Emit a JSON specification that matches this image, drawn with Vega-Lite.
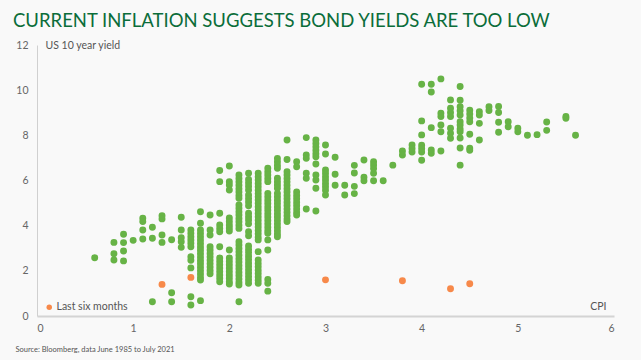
{
  "$schema": "https://vega.github.io/schema/vega-lite/v6.json",
  "autosize": "none",
  "width": 577,
  "height": 271,
  "padding": {"left": 37, "top": 45, "right": 27, "bottom": 44},
  "background": "#f9f9f9",
  "config": {"view": {"stroke": null}, "font": "Lato"},
  "title": {"text": "CURRENT INFLATION SUGGESTS BOND YIELDS ARE TOO LOW", "anchor": "start", "frame": "group", "dx": -24, "dy": 18, "offset": 13, "baseline": "alphabetic", "fontSize": 18.5, "font": "Lato", "fontWeight": "normal", "color": "#0b6d3a"},
  "datasets": {
    "history": [
      {"cpi":0.6,"yield":2.58},
      {"cpi":0.8,"yield":3.26},{"cpi":0.8,"yield":2.76},{"cpi":0.8,"yield":2.48},
      {"cpi":0.9,"yield":3.62},{"cpi":0.9,"yield":3.25},{"cpi":0.9,"yield":2.88},{"cpi":0.9,"yield":2.44},
      {"cpi":1.0,"yield":3.35},
      {"cpi":1.1,"yield":4.33},{"cpi":1.1,"yield":4.18},{"cpi":1.1,"yield":3.81},{"cpi":1.1,"yield":3.41},
      {"cpi":1.2,"yield":3.93},{"cpi":1.2,"yield":3.44},{"cpi":1.2,"yield":0.63},
      {"cpi":1.3,"yield":4.44},{"cpi":1.3,"yield":4.30},{"cpi":1.3,"yield":3.59},{"cpi":1.3,"yield":3.26},
      {"cpi":1.4,"yield":3.38},{"cpi":1.4,"yield":1.03},{"cpi":1.4,"yield":0.63},
      {"cpi":1.5,"yield":4.37},{"cpi":1.5,"yield":3.81},{"cpi":1.5,"yield":3.47},{"cpi":1.5,"yield":3.29},{"cpi":1.5,"yield":3.04},
      {"cpi":1.6,"yield":3.81},{"cpi":1.6,"yield":3.66},{"cpi":1.6,"yield":3.51},{"cpi":1.6,"yield":3.37},{"cpi":1.6,"yield":3.22},{"cpi":1.6,"yield":3.07},{"cpi":1.6,"yield":2.62},{"cpi":1.6,"yield":2.47},{"cpi":1.6,"yield":2.13},{"cpi":1.6,"yield":0.85},{"cpi":1.6,"yield":0.49},
      {"cpi":1.7,"yield":4.62},{"cpi":1.7,"yield":4.11},{"cpi":1.7,"yield":3.81},{"cpi":1.7,"yield":3.66},{"cpi":1.7,"yield":3.51},{"cpi":1.7,"yield":3.36},{"cpi":1.7,"yield":3.21},{"cpi":1.7,"yield":3.06},{"cpi":1.7,"yield":2.91},{"cpi":1.7,"yield":2.76},{"cpi":1.7,"yield":2.61},{"cpi":1.7,"yield":2.46},{"cpi":1.7,"yield":2.31},{"cpi":1.7,"yield":2.16},{"cpi":1.7,"yield":2.01},{"cpi":1.7,"yield":1.86},{"cpi":1.7,"yield":1.71},{"cpi":1.7,"yield":1.59},{"cpi":1.7,"yield":0.68},
      {"cpi":1.8,"yield":4.47},{"cpi":1.8,"yield":3.81},{"cpi":1.8,"yield":3.59},{"cpi":1.8,"yield":3.07},{"cpi":1.8,"yield":2.92},{"cpi":1.8,"yield":2.77},{"cpi":1.8,"yield":2.62},{"cpi":1.8,"yield":2.47},{"cpi":1.8,"yield":2.32},{"cpi":1.8,"yield":2.17},{"cpi":1.8,"yield":2.02},{"cpi":1.8,"yield":1.87},
      {"cpi":1.9,"yield":6.44},{"cpi":1.9,"yield":5.95},{"cpi":1.9,"yield":4.55},{"cpi":1.9,"yield":4.03},{"cpi":1.9,"yield":3.88},{"cpi":1.9,"yield":3.73},{"cpi":1.9,"yield":3.07},{"cpi":1.9,"yield":2.57},{"cpi":1.9,"yield":2.42},{"cpi":1.9,"yield":2.27},{"cpi":1.9,"yield":2.12},{"cpi":1.9,"yield":1.97},{"cpi":1.9,"yield":1.82},{"cpi":1.9,"yield":1.67},{"cpi":1.9,"yield":1.52},
      {"cpi":2.0,"yield":6.64},{"cpi":2.0,"yield":5.95},{"cpi":2.0,"yield":5.80},{"cpi":2.0,"yield":5.58},{"cpi":2.0,"yield":4.34},{"cpi":2.0,"yield":4.19},{"cpi":2.0,"yield":4.03},{"cpi":2.0,"yield":3.90},{"cpi":2.0,"yield":3.76},{"cpi":2.0,"yield":2.92},{"cpi":2.0,"yield":2.57},{"cpi":2.0,"yield":2.42},{"cpi":2.0,"yield":2.27},{"cpi":2.0,"yield":2.12},{"cpi":2.0,"yield":1.97},{"cpi":2.0,"yield":1.82},{"cpi":2.0,"yield":1.67},{"cpi":2.0,"yield":1.52},{"cpi":2.0,"yield":1.42},
      {"cpi":2.1,"yield":6.24},{"cpi":2.1,"yield":6.09},{"cpi":2.1,"yield":5.94},{"cpi":2.1,"yield":5.79},{"cpi":2.1,"yield":5.64},{"cpi":2.1,"yield":5.49},{"cpi":2.1,"yield":5.34},{"cpi":2.1,"yield":5.21},{"cpi":2.1,"yield":4.92},{"cpi":2.1,"yield":4.77},{"cpi":2.1,"yield":4.62},{"cpi":2.1,"yield":4.47},{"cpi":2.1,"yield":4.32},{"cpi":2.1,"yield":4.17},{"cpi":2.1,"yield":4.02},{"cpi":2.1,"yield":3.88},{"cpi":2.1,"yield":3.29},{"cpi":2.1,"yield":3.14},{"cpi":2.1,"yield":2.99},{"cpi":2.1,"yield":2.84},{"cpi":2.1,"yield":2.69},{"cpi":2.1,"yield":2.54},{"cpi":2.1,"yield":2.39},{"cpi":2.1,"yield":2.24},{"cpi":2.1,"yield":2.09},{"cpi":2.1,"yield":1.94},{"cpi":2.1,"yield":1.79},{"cpi":2.1,"yield":1.64},{"cpi":2.1,"yield":1.49},{"cpi":2.1,"yield":1.37},{"cpi":2.1,"yield":0.63},
      {"cpi":2.2,"yield":6.32},{"cpi":2.2,"yield":6.05},{"cpi":2.2,"yield":5.90},{"cpi":2.2,"yield":5.75},{"cpi":2.2,"yield":5.58},{"cpi":2.2,"yield":5.36},{"cpi":2.2,"yield":5.20},{"cpi":2.2,"yield":5.05},{"cpi":2.2,"yield":4.88},{"cpi":2.2,"yield":4.55},{"cpi":2.2,"yield":4.40},{"cpi":2.2,"yield":4.25},{"cpi":2.2,"yield":4.08},{"cpi":2.2,"yield":3.73},{"cpi":2.2,"yield":3.55},{"cpi":2.2,"yield":3.10},{"cpi":2.2,"yield":2.95},{"cpi":2.2,"yield":2.80},{"cpi":2.2,"yield":2.65},{"cpi":2.2,"yield":2.50},{"cpi":2.2,"yield":2.35},{"cpi":2.2,"yield":2.20},{"cpi":2.2,"yield":2.05},{"cpi":2.2,"yield":1.90},{"cpi":2.2,"yield":1.75},{"cpi":2.2,"yield":1.60},{"cpi":2.2,"yield":1.45},
      {"cpi":2.3,"yield":6.32},{"cpi":2.3,"yield":6.17},{"cpi":2.3,"yield":6.02},{"cpi":2.3,"yield":5.87},{"cpi":2.3,"yield":5.72},{"cpi":2.3,"yield":5.57},{"cpi":2.3,"yield":5.42},{"cpi":2.3,"yield":5.28},{"cpi":2.3,"yield":5.14},{"cpi":2.3,"yield":4.99},{"cpi":2.3,"yield":4.84},{"cpi":2.3,"yield":4.69},{"cpi":2.3,"yield":4.54},{"cpi":2.3,"yield":4.39},{"cpi":2.3,"yield":4.24},{"cpi":2.3,"yield":4.09},{"cpi":2.3,"yield":3.94},{"cpi":2.3,"yield":3.79},{"cpi":2.3,"yield":3.64},{"cpi":2.3,"yield":3.49},{"cpi":2.3,"yield":3.37},{"cpi":2.3,"yield":2.85},{"cpi":2.3,"yield":2.48},{"cpi":2.3,"yield":2.33},{"cpi":2.3,"yield":2.18},{"cpi":2.3,"yield":2.03},{"cpi":2.3,"yield":1.88},{"cpi":2.3,"yield":1.73},{"cpi":2.3,"yield":1.58},{"cpi":2.3,"yield":1.45},
      {"cpi":2.4,"yield":6.54},{"cpi":2.4,"yield":6.39},{"cpi":2.4,"yield":6.24},{"cpi":2.4,"yield":6.09},{"cpi":2.4,"yield":5.95},{"cpi":2.4,"yield":5.43},{"cpi":2.4,"yield":5.28},{"cpi":2.4,"yield":5.13},{"cpi":2.4,"yield":4.98},{"cpi":2.4,"yield":4.83},{"cpi":2.4,"yield":4.68},{"cpi":2.4,"yield":4.53},{"cpi":2.4,"yield":4.38},{"cpi":2.4,"yield":4.23},{"cpi":2.4,"yield":4.08},{"cpi":2.4,"yield":3.93},{"cpi":2.4,"yield":3.78},{"cpi":2.4,"yield":3.66},{"cpi":2.4,"yield":3.37},{"cpi":2.4,"yield":2.92},{"cpi":2.4,"yield":1.62},{"cpi":2.4,"yield":1.45},{"cpi":2.4,"yield":1.10},
      {"cpi":2.5,"yield":6.98},{"cpi":2.5,"yield":6.83},{"cpi":2.5,"yield":6.68},{"cpi":2.5,"yield":6.54},{"cpi":2.5,"yield":6.10},{"cpi":2.5,"yield":5.95},{"cpi":2.5,"yield":5.80},{"cpi":2.5,"yield":5.66},{"cpi":2.5,"yield":5.43},{"cpi":2.5,"yield":5.28},{"cpi":2.5,"yield":5.13},{"cpi":2.5,"yield":4.98},{"cpi":2.5,"yield":4.83},{"cpi":2.5,"yield":4.68},{"cpi":2.5,"yield":4.53},{"cpi":2.5,"yield":4.38},{"cpi":2.5,"yield":4.23},{"cpi":2.5,"yield":4.08},{"cpi":2.5,"yield":3.93},{"cpi":2.5,"yield":3.78},{"cpi":2.5,"yield":3.63},{"cpi":2.5,"yield":3.51},
      {"cpi":2.6,"yield":7.79},{"cpi":2.6,"yield":6.93},{"cpi":2.6,"yield":6.39},{"cpi":2.6,"yield":6.24},{"cpi":2.6,"yield":6.09},{"cpi":2.6,"yield":5.94},{"cpi":2.6,"yield":5.79},{"cpi":2.6,"yield":5.64},{"cpi":2.6,"yield":5.49},{"cpi":2.6,"yield":5.34},{"cpi":2.6,"yield":5.19},{"cpi":2.6,"yield":5.04},{"cpi":2.6,"yield":4.89},{"cpi":2.6,"yield":4.74},{"cpi":2.6,"yield":4.59},{"cpi":2.6,"yield":4.44},{"cpi":2.6,"yield":4.29},{"cpi":2.6,"yield":4.18},
      {"cpi":2.7,"yield":6.83},{"cpi":2.7,"yield":6.61},{"cpi":2.7,"yield":5.49},{"cpi":2.7,"yield":5.34},{"cpi":2.7,"yield":5.19},{"cpi":2.7,"yield":5.04},{"cpi":2.7,"yield":4.89},{"cpi":2.7,"yield":4.74},{"cpi":2.7,"yield":4.59},{"cpi":2.7,"yield":4.47},
      {"cpi":2.8,"yield":7.90},{"cpi":2.8,"yield":7.13},{"cpi":2.8,"yield":6.98},{"cpi":2.8,"yield":6.32},{"cpi":2.8,"yield":6.10},{"cpi":2.8,"yield":4.74},
      {"cpi":2.9,"yield":7.79},{"cpi":2.9,"yield":7.64},{"cpi":2.9,"yield":7.49},{"cpi":2.9,"yield":7.34},{"cpi":2.9,"yield":7.19},{"cpi":2.9,"yield":7.05},{"cpi":2.9,"yield":6.73},{"cpi":2.9,"yield":6.24},{"cpi":2.9,"yield":6.02},{"cpi":2.9,"yield":5.66},{"cpi":2.9,"yield":4.65},
      {"cpi":3.0,"yield":7.57},{"cpi":3.0,"yield":7.17},{"cpi":3.0,"yield":6.47},{"cpi":3.0,"yield":6.32},{"cpi":3.0,"yield":6.17},{"cpi":3.0,"yield":6.02},{"cpi":3.0,"yield":5.87},{"cpi":3.0,"yield":5.72},{"cpi":3.0,"yield":5.57},{"cpi":3.0,"yield":5.36},
      {"cpi":3.1,"yield":7.03},{"cpi":3.1,"yield":6.28},{"cpi":3.1,"yield":5.79},
      {"cpi":3.2,"yield":5.79},{"cpi":3.2,"yield":5.36},
      {"cpi":3.3,"yield":6.67},{"cpi":3.3,"yield":6.33},{"cpi":3.3,"yield":5.74},{"cpi":3.3,"yield":5.42},
      {"cpi":3.4,"yield":6.91},{"cpi":3.4,"yield":6.14},{"cpi":3.4,"yield":5.99},
      {"cpi":3.5,"yield":6.83},{"cpi":3.5,"yield":6.69},{"cpi":3.5,"yield":6.53},{"cpi":3.5,"yield":6.32},{"cpi":3.5,"yield":5.99},
      {"cpi":3.6,"yield":5.99},
      {"cpi":3.7,"yield":6.68},
      {"cpi":3.8,"yield":7.31},{"cpi":3.8,"yield":7.13},
      {"cpi":3.9,"yield":7.57},{"cpi":3.9,"yield":7.42},{"cpi":3.9,"yield":7.26},
      {"cpi":4.0,"yield":10.26},{"cpi":4.0,"yield":8.64},{"cpi":4.0,"yield":8.02},{"cpi":4.0,"yield":7.56},{"cpi":4.0,"yield":7.42},{"cpi":4.0,"yield":7.26},{"cpi":4.0,"yield":6.90},
      {"cpi":4.1,"yield":10.26},{"cpi":4.1,"yield":9.92},{"cpi":4.1,"yield":8.34},{"cpi":4.1,"yield":7.35},{"cpi":4.1,"yield":7.21},
      {"cpi":4.2,"yield":10.50},{"cpi":4.2,"yield":8.98},{"cpi":4.2,"yield":8.83},{"cpi":4.2,"yield":8.46},{"cpi":4.2,"yield":8.16},{"cpi":4.2,"yield":7.31},
      {"cpi":4.3,"yield":9.57},{"cpi":4.3,"yield":9.20},{"cpi":4.3,"yield":9.01},{"cpi":4.3,"yield":8.83},{"cpi":4.3,"yield":8.31},{"cpi":4.3,"yield":8.09},{"cpi":4.3,"yield":7.87},
      {"cpi":4.4,"yield":10.16},{"cpi":4.4,"yield":9.55},{"cpi":4.4,"yield":9.27},{"cpi":4.4,"yield":9.09},{"cpi":4.4,"yield":8.90},{"cpi":4.4,"yield":8.60},{"cpi":4.4,"yield":8.46},{"cpi":4.4,"yield":8.28},{"cpi":4.4,"yield":8.16},{"cpi":4.4,"yield":7.88},{"cpi":4.4,"yield":7.44},{"cpi":4.4,"yield":6.68},
      {"cpi":4.5,"yield":9.11},{"cpi":4.5,"yield":8.95},{"cpi":4.5,"yield":8.77},{"cpi":4.5,"yield":8.60},{"cpi":4.5,"yield":8.05},{"cpi":4.5,"yield":7.43},{"cpi":4.5,"yield":7.34},
      {"cpi":4.6,"yield":9.05},{"cpi":4.6,"yield":8.90},{"cpi":4.6,"yield":8.53},{"cpi":4.6,"yield":7.79},
      {"cpi":4.7,"yield":9.27},{"cpi":4.7,"yield":9.10},
      {"cpi":4.8,"yield":9.28},{"cpi":4.8,"yield":9.01},{"cpi":4.8,"yield":8.58},{"cpi":4.8,"yield":8.14},
      {"cpi":4.9,"yield":8.60},{"cpi":4.9,"yield":8.38},
      {"cpi":5.0,"yield":8.31},{"cpi":5.0,"yield":8.16},
      {"cpi":5.1,"yield":8.00},
      {"cpi":5.2,"yield":8.03},
      {"cpi":5.3,"yield":8.59},{"cpi":5.3,"yield":8.22},
      {"cpi":5.5,"yield":8.83},{"cpi":5.5,"yield":8.76},
      {"cpi":5.6,"yield":8.00}
    ],
    "recent": [
      {"cpi":1.3,"yield":1.40,"series":"Last six months"},
      {"cpi":1.6,"yield":1.71,"series":"Last six months"},
      {"cpi":3.0,"yield":1.60,"series":"Last six months"},
      {"cpi":3.8,"yield":1.56,"series":"Last six months"},
      {"cpi":4.5,"yield":1.43,"series":"Last six months"},
      {"cpi":4.3,"yield":1.21,"series":"Last six months"}
    ]
  },
  "encoding": {
    "y": {"field": "yield", "type": "quantitative", "scale": {"domain": [0, 12], "nice": false},
      "axis": {"values": [0,2,4,6,8,10,12], "ticks": false, "grid": false, "domainColor": "#d0d0d0", "domainWidth": 1, "labelPadding": 9, "labelFontSize": 10.5, "labelColor": "#666666", "labelFont": "Lato",
        "title": "US 10 year yield", "titleAngle": 0, "titleX": 8, "titleY": 0, "titleAlign": "left", "titleBaseline": "middle", "titleFontWeight": "normal", "titleFontSize": 10.5, "titleColor": "#555555", "titleFont": "Lato"}}
  },
  "layer": [
    {
      "data": {"name": "history"},
      "mark": {"type": "circle", "size": 48, "opacity": 1, "color": "#67b346"},
      "encoding": {
        "x": {"field": "cpi", "type": "quantitative", "scale": {"domain": [0, 6], "nice": false},
          "axis": {"values": [0,1,2,3,4,5,6], "ticks": false, "grid": false, "domainColor": "#d4d4d4", "domainWidth": 2, "labelPadding": 7, "labelFontSize": 10.5, "labelColor": "#666666", "labelFont": "Lato",
            "title": "CPI", "titleX": 569, "titleY": -10, "titleAlign": "right", "titleBaseline": "middle", "titleFontWeight": "normal", "titleFontSize": 10.5, "titleColor": "#555555", "titleFont": "Lato"}}
      }
    },
    {
      "data": {"name": "recent"},
      "mark": {"type": "circle", "size": 48, "opacity": 1},
      "encoding": {
        "x": {"field": "cpi", "type": "quantitative",
          "axis": {"orient": "bottom", "labels": false, "ticks": false, "domain": false, "grid": false,
            "title": "Source: Bloomberg, data June 1985 to July 2021", "titleX": -22, "titleY": 33, "titleAlign": "left", "titleBaseline": "middle", "titleFontWeight": "normal", "titleFontSize": 7.5, "titleColor": "#555555", "titleFont": "Lato"}},
        "color": {"field": "series", "type": "nominal", "scale": {"domain": ["Last six months"], "range": ["#f7894a"]},
          "legend": {"title": null, "orient": "none", "legendX": 7, "legendY": 257, "symbolType": "circle", "symbolSize": 30, "labelFontSize": 10.5, "labelColor": "#555555", "labelFont": "Lato", "labelOffset": 2, "padding": 0}}
      }
    }
  ],
  "resolve": {"axis": {"x": "independent"}}
}
